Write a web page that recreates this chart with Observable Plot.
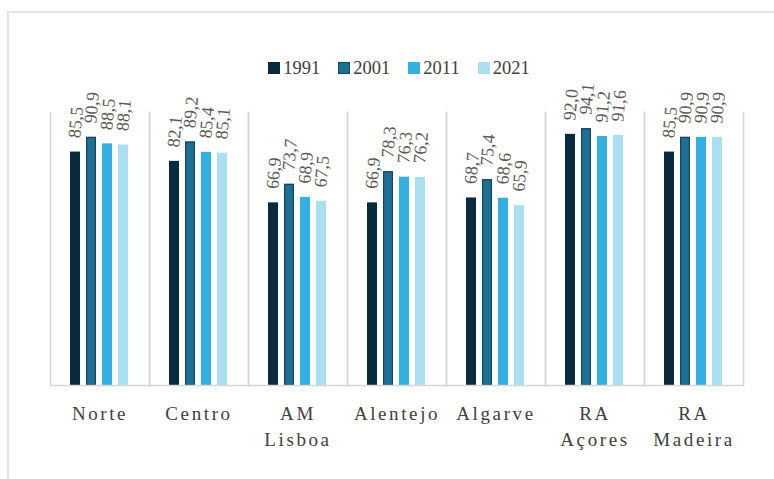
<!DOCTYPE html>
<html>
<head>
<meta charset="utf-8">
<script src="https://cdn.jsdelivr.net/npm/d3@7"></script>
<script src="https://cdn.jsdelivr.net/npm/@observablehq/plot@0.6"></script>
<style>
  html, body { margin: 0; padding: 0; background: #fff; overflow: hidden; width: 774px; height: 479px; }
  #frame { position: absolute; left: 7px; top: 11px; width: 900px; height: 900px; border: 2px solid #e3e3e3; pointer-events: none; }
  #legend { height: 78px; box-sizing: border-box; padding-top: 58px; padding-left: 24px; display: flex; justify-content: center; gap: 18px;
            font-family: 'Liberation Serif', serif; font-size: 18.5px; color: #404040; line-height: 20px; }
  .item { display: flex; align-items: center; gap: 3px; }
  .sw { width: 12px; height: 12px; display: inline-block; box-sizing: border-box; }
  #chart svg g[aria-label="fx-axis tick label"] text { letter-spacing: 2.6px; }
</style>
</head>
<body>
<div id="frame"></div>
<div id="legend"></div>
<div id="chart"></div>
<script>
const categories = ["Norte", "Centro", "AM Lisboa", "Alentejo", "Algarve", "RA Açores", "RA Madeira"];
const years = ["1991", "2001", "2011", "2021"];
const v1991 = [85.5, 82.1, 66.9, 66.9, 68.7, 92.0, 85.5];
const v2001 = [90.9, 89.2, 73.7, 78.3, 75.4, 94.1, 90.9];
const v2011 = [88.5, 85.4, 68.9, 76.3, 68.6, 91.2, 90.9];
const v2021 = [88.1, 85.1, 67.5, 76.2, 65.9, 91.6, 90.9];
const colors = ["#0a2b3e", "#1e6f94", "#33b0e1", "#abdff2"];
const outline2001 = "#154660";

const series = [v1991, v2001, v2011, v2021];
const data = [];
categories.forEach((c, i) => {
  years.forEach((y, j) => data.push({region: c, year: y, value: series[j][i]}));
});

const fmt = v => d3.format(".1f")(v).replace(".", ",");

// legend
const legend = document.getElementById("legend");
years.forEach((y, j) => {
  const it = document.createElement("div");
  it.className = "item";
  const sw = document.createElement("span");
  sw.className = "sw";
  sw.style.background = colors[j];
  if (y === "2001") sw.style.border = "1.5px solid " + outline2001;
  const t = document.createElement("span");
  t.textContent = y;
  it.appendChild(sw); it.appendChild(t);
  legend.appendChild(it);
});

const grid = "#d6d6d6";
const chart = Plot.plot({
  width: 774,
  height: 401,
  marginTop: 34,
  marginBottom: 94,
  marginLeft: 50,
  marginRight: 31,
  style: {fontFamily: "'Liberation Serif', serif", overflow: "visible", background: "transparent"},
  fx: {domain: categories, padding: 0, label: null, axis: null},
  x: {domain: years, paddingInner: 0.36, paddingOuter: 1.15, axis: null},
  y: {domain: [0, 100], axis: null},
  color: {domain: years, range: colors},
  marks: [
    Plot.frame({anchor: "left", stroke: grid, strokeWidth: 1.5}),
    Plot.frame({anchor: "right", stroke: grid, strokeWidth: 1.5}),
    Plot.barY(data, {fx: "region", x: "year", y: "value", fill: "year"}),
    Plot.barY(data, {fx: "region", x: "year", y: "value", fill: "none", stroke: outline2001, strokeWidth: 1.2,
                     filter: d => d.year === "2001", insetLeft: 0.6, insetRight: 0.6, insetTop: 0.6}),
    Plot.ruleY([0], {stroke: grid, strokeWidth: 1.5}),
    Plot.text(data, {fx: "region", x: "year", y: "value", text: d => fmt(d.value), rotate: -85,
                     textAnchor: "start", dy: -14, dx: -1, fill: "#5a5a5a", fontSize: 18}),
    Plot.axisFx({anchor: "bottom", tickSize: 0, tickPadding: 16, fontSize: 19, lineHeight: 1.37,
                 tickFormat: d => d.replace(" ", "\n"), label: null, fill: "#404040"})
  ]
});
document.getElementById("chart").appendChild(chart);
</script>
</body>
</html>
